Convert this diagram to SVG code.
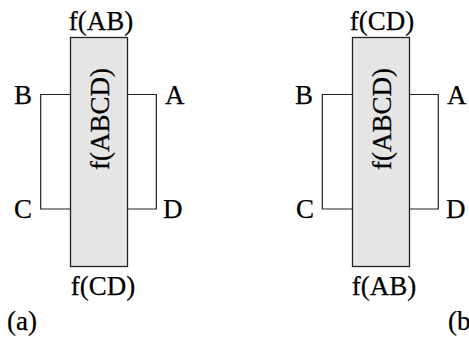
<svg xmlns="http://www.w3.org/2000/svg" width="469" height="338" viewBox="0 0 469 338">
<style>
text{font-family:"Liberation Serif","Times New Roman",serif;font-size:27px;fill:#000;stroke:#000;stroke-width:0.25}
.box{fill:#e5e5e5;stroke:#222;stroke-width:1.3}
.wire{fill:none;stroke:#222;stroke-width:1.2}
</style>
<rect width="469" height="338" fill="#fff"/>
<g id="connectors">
<polyline class="wire" points="70.5,94.5 40.7,94.5 40.7,209 70.5,209"/>
<polyline class="wire" points="127.5,94.5 156.3,94.5 156.3,209 127.5,209"/>
<polyline class="wire" points="352.5,94.5 322.3,94.5 322.3,209 352.5,209"/>
<polyline class="wire" points="409.5,94.5 438.3,94.5 438.3,209 409.5,209"/>
</g>
<g id="panel-a">
<g id="box-a"><rect class="box" x="70.5" y="37.5" width="57" height="229"/>
<text transform="translate(109,119) rotate(-90)" text-anchor="middle">f(ABCD)</text></g>
<text x="101" y="30" text-anchor="middle">f(AB)</text>
<text x="103" y="295" text-anchor="middle">f(CD)</text>
<text x="14" y="104">B</text>
<text x="165" y="104">A</text>
<text x="14" y="218">C</text>
<text x="163" y="218">D</text>
<text x="7" y="330">(a)</text>
</g>
<g id="panel-b">
<g id="box-b"><rect class="box" x="352.5" y="37.5" width="57" height="229"/>
<text transform="translate(391,119) rotate(-90)" text-anchor="middle">f(ABCD)</text></g>
<text x="382" y="30" text-anchor="middle">f(CD)</text>
<text x="384" y="295" text-anchor="middle">f(AB)</text>
<text x="295" y="104">B</text>
<text x="447" y="104">A</text>
<text x="296" y="218">C</text>
<text x="446" y="218">D</text>
<text x="448" y="330">(b)</text>
</g>
</svg>
